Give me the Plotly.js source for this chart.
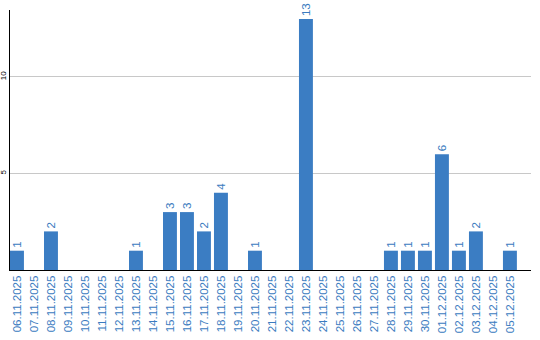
<!DOCTYPE html>
<html>
<head>
<meta charset="utf-8">
<script src="https://cdn.plot.ly/plotly-3.0.1.min.js"></script>
<style>html,body{margin:0;padding:0;background:#fff;}#chart{width:540px;height:340px;}</style>
</head>
<body>
<div id="chart"></div>
<script>
const dates = ["06.11.2025","07.11.2025","08.11.2025","09.11.2025","10.11.2025","11.11.2025","12.11.2025","13.11.2025","14.11.2025","15.11.2025","16.11.2025","17.11.2025","18.11.2025","19.11.2025","20.11.2025","21.11.2025","22.11.2025","23.11.2025","24.11.2025","25.11.2025","26.11.2025","27.11.2025","28.11.2025","29.11.2025","30.11.2025","01.12.2025","02.12.2025","03.12.2025","04.12.2025","05.12.2025"];
const counts = [1,0,2,0,0,0,0,1,0,3,3,2,4,0,1,0,0,13,0,0,0,0,1,1,1,6,1,2,0,1];
const yTicks = [5,10];

const blue = "#3b7dc3";
const labelBlue = "#3a7bc0";
const fontFam = "Liberation Sans, Arial, sans-serif";

const trace = {
  type: "bar",
  x: dates,
  y: counts,
  text: counts.map(v => v > 0 ? String(v) : ""),
  textposition: "outside",
  textangle: -90,
  cliponaxis: false,
  textfont: {family: fontFam, size: 11.5, color: labelBlue},
  marker: {color: blue},
  hoverinfo: "none"
};

const layout = {
  width: 540, height: 340,
  margin: {l: 10, r: 9, t: 10, b: 70, pad: 0},
  paper_bgcolor: "#fff", plot_bgcolor: "#fff",
  showlegend: false,
  bargap: 0.18,
  xaxis: {
    type: "category",
    range: [-0.41, 30.24],
    tickangle: -90,
    tickfont: {family: fontFam, size: 11.5, color: labelBlue},
    showline: true, linecolor: "#000", linewidth: 1,
    showgrid: false, zeroline: false, ticks: "",
    automargin: false, fixedrange: true
  },
  yaxis: {
    range: [0, 13.47],
    tickvals: yTicks,
    ticktext: yTicks.map(String),
    tickangle: -90,
    tickfont: {family: fontFam, size: 8, color: "#000"},
    showline: true, linecolor: "#000", linewidth: 1,
    showgrid: true, gridcolor: "#c8c8c8", gridwidth: 1,
    zeroline: false, ticks: "",
    automargin: false, fixedrange: true
  }
};

Plotly.newPlot("chart", [trace], layout, {staticPlot: true, displayModeBar: false});
</script>
</body>
</html>
